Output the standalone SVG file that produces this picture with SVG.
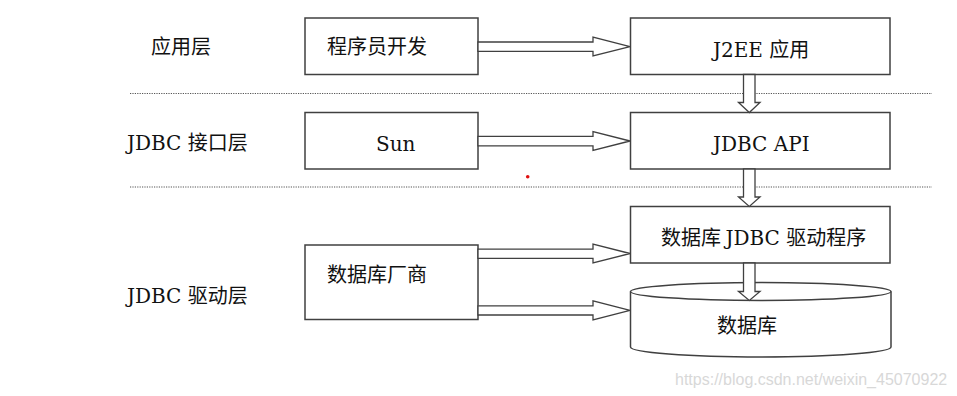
<svg xmlns="http://www.w3.org/2000/svg" width="957" height="396" viewBox="0 0 957 396">
<style>
.box{fill:#fff;stroke:#404040;stroke-width:1.5}
.arr{fill:#fff;stroke:#404040;stroke-width:1.3;stroke-linejoin:miter}
.sep{stroke:#555;stroke-width:1.2;stroke-dasharray:1.2 1.2;fill:none}
.t{font-family:'DejaVu Serif';font-size:20px;fill:#111}
.c{font-family:'Noto Sans CJK SC',sans-serif;font-size:20px;fill:#111}
.wm{font-family:'Liberation Sans',Arial,sans-serif;font-size:16px;fill:#d8d8d8}
</style>
<rect width="957" height="396" fill="#fff"/>
<g id="separators">
<line class="sep" x1="130" y1="93.5" x2="932" y2="93.5"/>
<line class="sep" x1="130" y1="187" x2="932" y2="187"/>
</g>
<g id="layer-labels">
<text class="c" x="151" y="54">应用层</text>
<text x="127" y="150"><tspan class="t">JDBC </tspan><tspan class="c">接口层</tspan></text>
<text x="127" y="303"><tspan class="t">JDBC </tspan><tspan class="c">驱动层</tspan></text>
</g>
<g id="node-dev">
<rect class="box" x="305" y="18" width="173" height="56.5"/>
<text class="c" x="327" y="54">程序员开发</text>
</g>
<g id="node-j2ee">
<rect class="box" x="630.5" y="18" width="259.5" height="56.5"/>
<text x="713" y="57"><tspan class="t">J2EE </tspan><tspan class="c">应用</tspan></text>
</g>
<g id="node-sun">
<rect class="box" x="305" y="112.5" width="173" height="56.5"/>
<text class="t" x="376" y="150.5">Sun</text>
</g>
<g id="node-jdbcapi">
<rect class="box" x="630.5" y="112.5" width="259.5" height="56.5"/>
<text class="t" x="713" y="150.5">JDBC API</text>
</g>
<g id="node-driver">
<rect class="box" x="630.5" y="206.5" width="259.5" height="56.5"/>
<text x="661" y="245"><tspan class="c">数据库 </tspan><tspan class="t">JDBC </tspan><tspan class="c">驱动程序</tspan></text>
</g>
<g id="node-vendor">
<rect class="box" x="305" y="245" width="173" height="74.5"/>
<text class="c" x="327" y="282">数据库厂商</text>
</g>
<g id="node-db">
<path class="box" d="M630.5,291.5 V347 A130.25,10 0 0 0 891,347 V291.5"/>
<ellipse class="box" cx="760.75" cy="291.5" rx="130.25" ry="9"/>
<text class="c" x="717" y="333">数据库</text>
</g>
<g id="connectors">
<polygon class="arr" points="478,42 593,42 593,37 630,46.7 593,56 593,51.3 478,51.3"/>
<polygon class="arr" points="478,136.3 593,136.3 593,131.5 630,141 593,150.5 593,145.8 478,145.8"/>
<polygon class="arr" points="478,249.2 593,249.2 593,244 630,253.5 593,263 593,258.3 478,258.3"/>
<polygon class="arr" points="478,305.8 593,305.8 593,300.8 630,310.3 593,319.8 593,315 478,315"/>
<polygon class="arr" points="743.5,74.5 755,74.5 755,102.5 760,102.5 749.3,112.5 738.5,102.5 743.5,102.5"/>
<polygon class="arr" points="743.5,169 755,169 755,197 760,197 749.3,206.5 738.5,197 743.5,197"/>
<polygon class="arr" points="743.5,263 755,263 755,291.5 760,291.5 749.3,300.5 738.5,291.5 743.5,291.5"/>
</g>
<circle cx="527.7" cy="176.7" r="1.8" fill="#e01010"/>
<text class="wm" x="675" y="385">https://blog.csdn.net/weixin_45070922</text>
</svg>
